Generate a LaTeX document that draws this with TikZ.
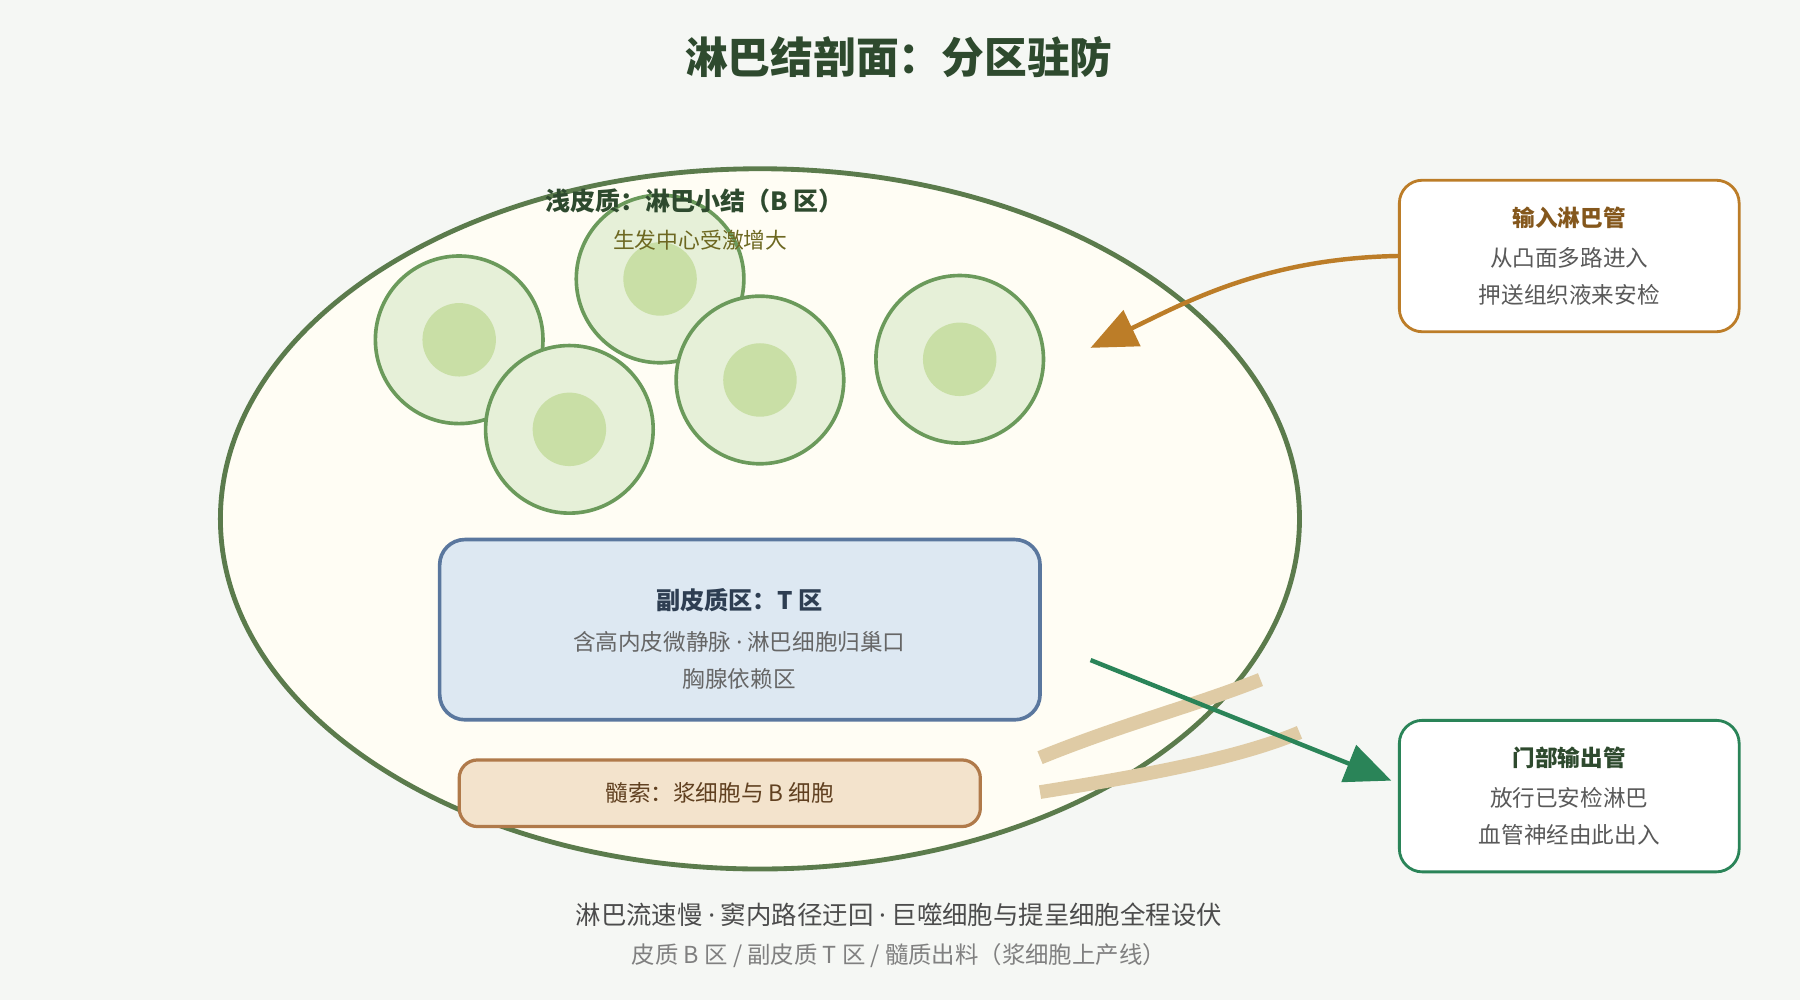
\documentclass[tikz,border=0pt]{standalone}
\usepackage{fontspec}
\setmainfont{Noto Sans CJK SC}
\newfontfamily\latinfont{Noto Sans}
\newcommand{\sepdot}{{\latinfont ·}}
\usetikzlibrary{arrows.meta}
\definecolor{bgc}{HTML}{F5F7F4}
\definecolor{nodefill}{HTML}{FFFDF4}
\definecolor{nodeline}{HTML}{5B7B4C}
\definecolor{follout}{HTML}{E6F0D8}
\definecolor{follin}{HTML}{C9DFA6}
\definecolor{folline}{HTML}{6B9A5B}
\definecolor{titlec}{HTML}{2E4A2E}
\definecolor{tfill}{HTML}{DDE8F2}
\definecolor{tline}{HTML}{5A779E}
\definecolor{ttext}{HTML}{2E3E52}
\definecolor{mfill}{HTML}{F3E3CC}
\definecolor{mline}{HTML}{B07A4A}
\definecolor{inc}{HTML}{BC7D28}
\definecolor{outc}{HTML}{2A8458}
\definecolor{vessel}{HTML}{DFCBA5}
\tikzset{
  follicle/.style={circle, draw=folline, line width=0.9pt, fill=follout, minimum size=14.6mm, inner sep=0pt},
  centre/.style={circle, fill=follin, minimum size=6.4mm, inner sep=0pt},
  sidebox/.style={rounded corners=2mm, fill=white, line width=0.7pt, minimum width=29.6mm, minimum height=13.2mm, align=center, font=\fontsize{5.6pt}{9pt}\selectfont, text=black!65},
}
\begin{document}
\begin{tikzpicture}[x=0.1mm,y=-0.1mm]
        \fill[bgc] (0,0) rectangle (1568,871);
        \useasboundingbox (0,0) rectangle (1568,871);

        \node[font=\fontsize{10.6pt}{12pt}\selectfont\bfseries, text=titlec] (title) at (783,50) {淋巴结剖面：分区驻防};

        \draw[nodeline, fill=nodefill, line width=1.2pt] (662,452) ellipse [x radius=470, y radius=305];

        % follicles
        \foreach \n/\x/\y in {a/400/296, b/575/243, c/496/374, d/662/331, e/836/313} {
            \node[follicle] (f\n) at (\x,\y) {};
            \node[centre] at (f\n) {};
        }
        \node[font=\fontsize{6.2pt}{8pt}\selectfont\bfseries, text=titlec] (cortex) at (605,175) {浅皮质：淋巴小结（B 区）};
        \node[font=\fontsize{5.4pt}{8pt}\selectfont, text=olive!70!black] (germ) at (610,209) {生发中心受激增大};

        % paracortex
        \node[draw=tline, fill=tfill, line width=0.9pt, rounded corners=2.2mm, minimum width=52.3mm, minimum height=15.7mm] (tzone) at (644.5,548.5) {};
        \node[font=\fontsize{6pt}{8pt}\selectfont\bfseries, text=ttext] at (644,523) {副皮质区：T 区};
        \node[font=\fontsize{5.6pt}{8pt}\selectfont, text=black!60] at (644,559) {含高内皮微静脉 \sepdot{} 淋巴细胞归巢口};
        \node[font=\fontsize{5.6pt}{8pt}\selectfont, text=black!60] at (644,591) {胸腺依赖区};

        % medulla
        \node[draw=mline, fill=mfill, line width=0.8pt, rounded corners=1.6mm, minimum width=45.4mm, minimum height=5.8mm, font=\fontsize{5.6pt}{8pt}\selectfont, text=brown!50!black] (medulla) at (627,691) {髓索：浆细胞与 B 细胞};

        % hilum vessels
        \draw[vessel, line width=3.4pt] (906,660) .. controls (980,630) and (1040,615) .. (1098,592);
        \draw[vessel, line width=3.4pt] (906,690) .. controls (1000,675) and (1080,660) .. (1132,638);

        % side boxes
        \node[sidebox, draw=inc] (inbox) at (1367,223) {{\bfseries\color{inc!70!black}输入淋巴管}\\[1pt]从凸面多路进入\\押送组织液来安检};
        \node[sidebox, draw=outc] (outbox) at (1367,693.5) {{\bfseries\color{titlec}门部输出管}\\[1pt]放行已安检淋巴\\血管神经由此出入};

        \coordinate (inhead) at (950,303);
        \coordinate (outtail) at (950,575);
        \draw[inc, line width=1.1pt, -{Triangle[length=4mm,width=3.4mm]}] (inbox.west) .. controls (1100,225) and (1030,265) .. (inhead);
        \draw[outc, line width=1.1pt, -{Triangle[length=4mm,width=3.4mm]}] (outtail) -- (1212,680);

        % footer
        \node[font=\fontsize{6.3pt}{8pt}\selectfont, text=black!70] (note) at (783,797) {淋巴流速慢 \sepdot{} 窦内路径迂回 \sepdot{} 巨噬细胞与提呈细胞全程设伏};
        \node[font=\fontsize{5.8pt}{8pt}\selectfont, text=black!50] (legend) at (783,832) {皮质 B 区 / 副皮质 T 区 / 髓质出料（浆细胞上产线）};
\end{tikzpicture}
\end{document}
